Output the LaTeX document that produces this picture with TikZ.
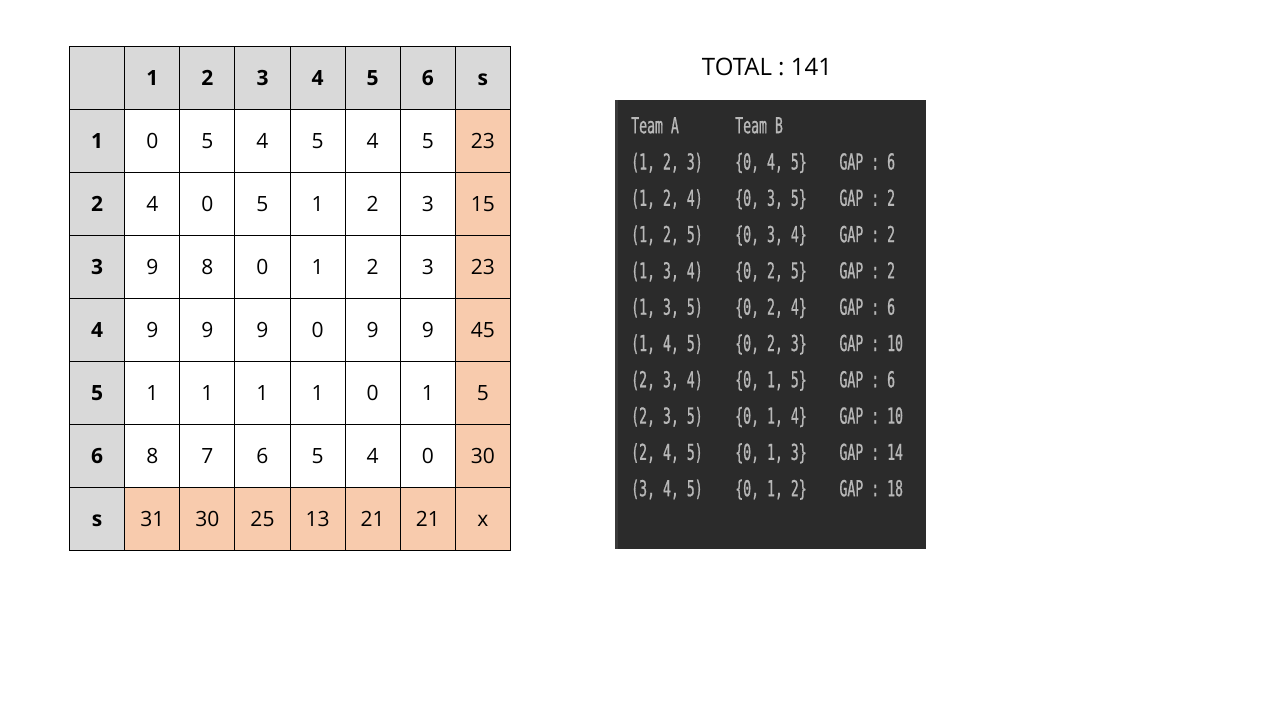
\documentclass[tikz,border=0pt]{standalone}
\usepackage{fontspec}
\setmainfont{Open Sans}
\newfontfamily\termfont[FakeStretch=0.6,FakeBold=0.8]{DejaVu Sans Mono}
\usetikzlibrary{matrix}
\definecolor{hdrgray}{HTML}{D9D9D9}
\definecolor{sumorange}{HTML}{F8CBAD}
\definecolor{termbg}{HTML}{2B2B2B}
\definecolor{termstrip}{HTML}{3A3A3A}
\definecolor{termtext}{HTML}{B8B8B8}
\tikzset{
  cell/.style={draw=black, line width=0.9pt, fill=white, anchor=center, minimum width=55.1pt, minimum height=63pt, text height=15pt, text depth=0pt, inner sep=0pt, font=\fontsize{21}{25}\selectfont},
  hdr/.style={fill=hdrgray, font=\fontsize{21}{25}\selectfont\bfseries},
  sums/.style={fill=sumorange},
  termline/.style={anchor=west, inner sep=0pt, text height=16pt, text depth=0pt, minimum height=36.3pt, text=termtext, font=\termfont\fontsize{22}{26}\selectfont},
}
\begin{document}
\begin{tikzpicture}[x=1pt,y=-1pt]
\useasboundingbox[fill=white] (0,0) rectangle (1280,720);
\matrix (tbl) at (69,46) [matrix of nodes, anchor=north west, inner sep=0pt, nodes={cell}, column sep=-0.9pt, row sep=-0.9pt,
  row 1/.style={nodes={hdr}}, column 1/.style={nodes={hdr}}, column 8/.style={nodes={sums}}, row 8/.style={nodes={sums}}, row 8 column 1/.style={nodes={hdr}}]
{
\mbox{} & 1 & 2 & 3 & 4 & 5 & 6 & s \\
1 & 0 & 5 & 4 & 5 & 4 & 5 & 23 \\
2 & 4 & 0 & 5 & 1 & 2 & 3 & 15 \\
3 & 9 & 8 & 0 & 1 & 2 & 3 & 23 \\
4 & 9 & 9 & 9 & 0 & 9 & 9 & 45 \\
5 & 1 & 1 & 1 & 1 & 0 & 1 & 5 \\
6 & 8 & 7 & 6 & 5 & 4 & 0 & 30 \\
s & 31 & 30 & 25 & 13 & 21 & 21 & x \\
};
\node (total) at (767,67) [font=\fontsize{24}{28}\selectfont] {TOTAL : 141};
\node (term) at (615,100) [anchor=north west, fill=termbg, minimum width=311pt, minimum height=449pt, inner sep=0pt] {};
\fill[termstrip] (term.north west) rectangle ([xshift=3pt]term.south west);
\matrix (out) at (631,106.85) [matrix of nodes, anchor=north west, inner sep=0pt, nodes={termline}, column sep=32.5pt, row sep=0pt]
{
Team A & Team B & \\
(1, 2, 3) & \{0, 4, 5\} & GAP : 6 \\
(1, 2, 4) & \{0, 3, 5\} & GAP : 2 \\
(1, 2, 5) & \{0, 3, 4\} & GAP : 2 \\
(1, 3, 4) & \{0, 2, 5\} & GAP : 2 \\
(1, 3, 5) & \{0, 2, 4\} & GAP : 6 \\
(1, 4, 5) & \{0, 2, 3\} & GAP : 10 \\
(2, 3, 4) & \{0, 1, 5\} & GAP : 6 \\
(2, 3, 5) & \{0, 1, 4\} & GAP : 10 \\
(2, 4, 5) & \{0, 1, 3\} & GAP : 14 \\
(3, 4, 5) & \{0, 1, 2\} & GAP : 18 \\
};
\end{tikzpicture}
\end{document}
